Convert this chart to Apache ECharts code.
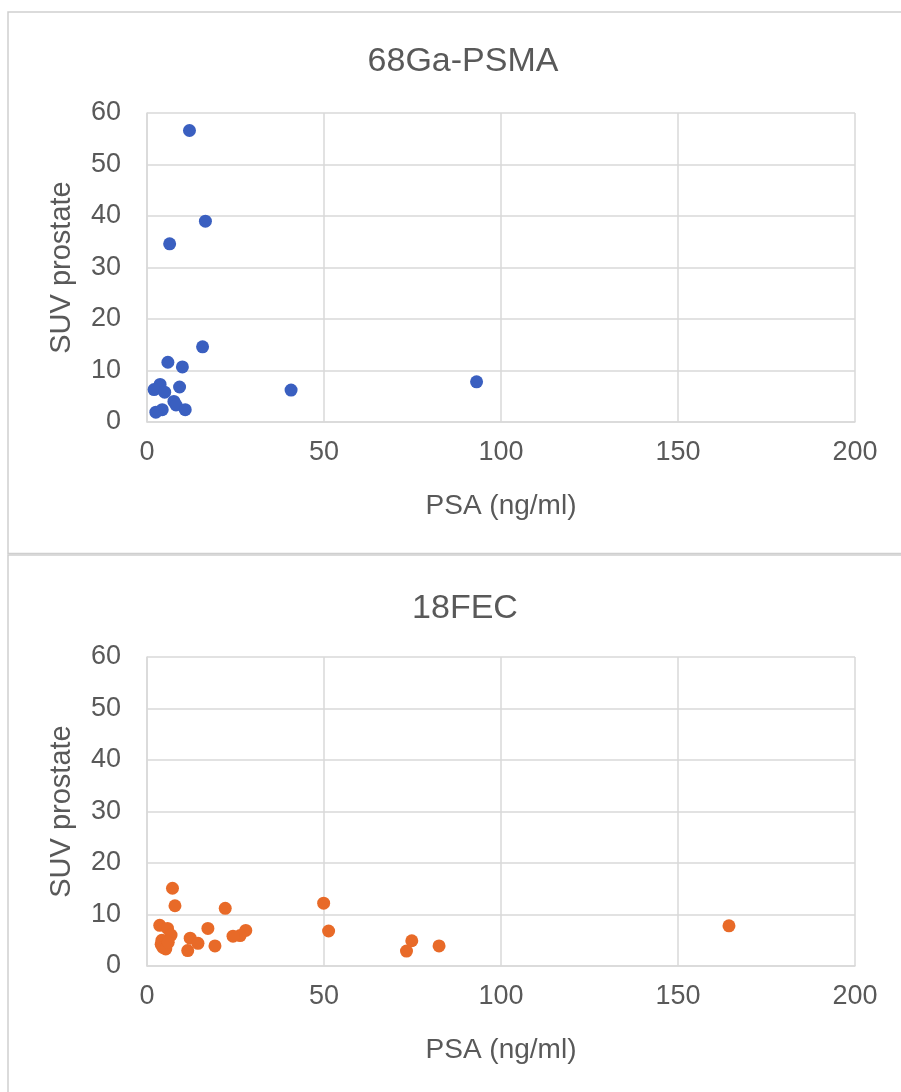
<!DOCTYPE html>
<html>
<head>
<meta charset="utf-8">
<title>SUV prostate vs PSA</title>
<script src="https://cdn.jsdelivr.net/npm/echarts@6/dist/echarts.min.js"></script>
<style>
  html, body { margin: 0; padding: 0; background: #ffffff; }
  #chart { width: 901px; height: 1092px; }
</style>
</head>
<body>
<div id="chart"></div>
<script>
// 68Ga-PSMA: PSA (ng/ml) and SUV prostate per patient
const psmaPsa = [12.0, 16.5, 6.4, 15.7, 5.9, 10.0, 9.2, 3.7, 2.0, 5.0, 40.7, 93.1, 7.6, 8.2, 10.8, 4.3, 2.5];
const psmaSuv = [56.6, 39.0, 34.6, 14.6, 11.6, 10.7, 6.8, 7.3, 6.3, 5.8, 6.2, 7.8, 4.0, 3.3, 2.4, 2.4, 1.9];

// 18FEC: PSA (ng/ml) and SUV prostate per patient
const fecPsa = [7.2, 7.9, 22.1, 49.9, 51.3, 17.2, 27.9, 26.3, 24.3, 19.2, 11.5, 12.2, 14.4, 74.8, 73.3, 82.5, 164.4,
                3.6, 5.8, 6.8, 4.2, 4.0, 4.5, 5.3, 6.0];
const fecSuv = [15.1, 11.7, 11.2, 12.2, 6.8, 7.3, 6.9, 5.9, 5.8, 3.9, 3.0, 5.4, 4.4, 4.9, 2.9, 3.9, 7.8,
                7.9, 7.3, 6.0, 5.0, 4.2, 3.6, 3.3, 4.6];

const xTicks = [0, 50, 100, 150, 200];
const yTicks = [0, 10, 20, 30, 40, 50, 60];
const titles = ['68Ga-PSMA', '18FEC'];
const xName = 'PSA (ng/ml)';
const yName = 'SUV prostate';

const FONT = '"Liberation Sans", Arial, Helvetica, sans-serif';
const TEXT = '#595959';
const GRID = '#d9d9d9';

function pairs(xs, ys) { return xs.map((x, i) => [x, ys[i]]); }

function xAxisFor(gridIndex) {
  return {
    gridIndex, type: 'value',
    min: xTicks[0], max: xTicks[xTicks.length - 1], interval: xTicks[1] - xTicks[0],
    name: xName, nameLocation: 'middle', nameGap: 70,
    nameTextStyle: { color: TEXT, fontSize: 28, fontFamily: FONT },
    axisLine: { show: true, lineStyle: { color: GRID, width: 1.5 } },
    axisTick: { show: false },
    axisLabel: { color: TEXT, fontSize: 27, fontFamily: FONT, margin: 17 },
    splitLine: { show: true, lineStyle: { color: GRID, width: 1.5 } }
  };
}
function yAxisFor(gridIndex) {
  return {
    gridIndex, type: 'value',
    min: yTicks[0], max: yTicks[yTicks.length - 1], interval: yTicks[1] - yTicks[0],
    name: yName, nameLocation: 'middle', nameGap: 71,
    nameTextStyle: { color: TEXT, fontSize: 29, fontFamily: FONT },
    axisLine: { show: true, lineStyle: { color: GRID, width: 1.5 } },
    axisTick: { show: false },
    axisLabel: { color: TEXT, fontSize: 27, fontFamily: FONT, margin: 26 },
    splitLine: { show: true, lineStyle: { color: GRID, width: 1.5 } }
  };
}

const chart = echarts.init(document.getElementById('chart'), null, { renderer: 'canvas' });
chart.setOption({
  backgroundColor: '#ffffff',
  animation: false,
  graphic: [
    { type: 'rect', z: -1, shape: { x: 8, y: 12, width: 930, height: 541.5 },
      style: { fill: '#ffffff', stroke: '#cfcfcf', lineWidth: 1.5 } },
    { type: 'rect', z: -1, shape: { x: 8, y: 555, width: 930, height: 600 },
      style: { fill: '#ffffff', stroke: '#cfcfcf', lineWidth: 1.5 } }
  ],
  title: [
    { text: titles[0], left: 458, top: 40, textAlign: 'center',
      textStyle: { color: TEXT, fontSize: 34, fontWeight: 'normal', fontFamily: FONT } },
    { text: titles[1], left: 460, top: 587, textAlign: 'center',
      textStyle: { color: TEXT, fontSize: 34, fontWeight: 'normal', fontFamily: FONT } }
  ],
  grid: [
    { left: 147, top: 113, width: 708, height: 309 },
    { left: 147, top: 657, width: 708, height: 309 }
  ],
  xAxis: [xAxisFor(0), xAxisFor(1)],
  yAxis: [yAxisFor(0), yAxisFor(1)],
  series: [
    { type: 'scatter', xAxisIndex: 0, yAxisIndex: 0, symbolSize: 13,
      itemStyle: { color: '#3A5FC0', opacity: 1 }, data: pairs(psmaPsa, psmaSuv) },
    { type: 'scatter', xAxisIndex: 1, yAxisIndex: 1, symbolSize: 13,
      itemStyle: { color: '#E86A28', opacity: 1 }, data: pairs(fecPsa, fecSuv) }
  ]
});
</script>
</body>
</html>
